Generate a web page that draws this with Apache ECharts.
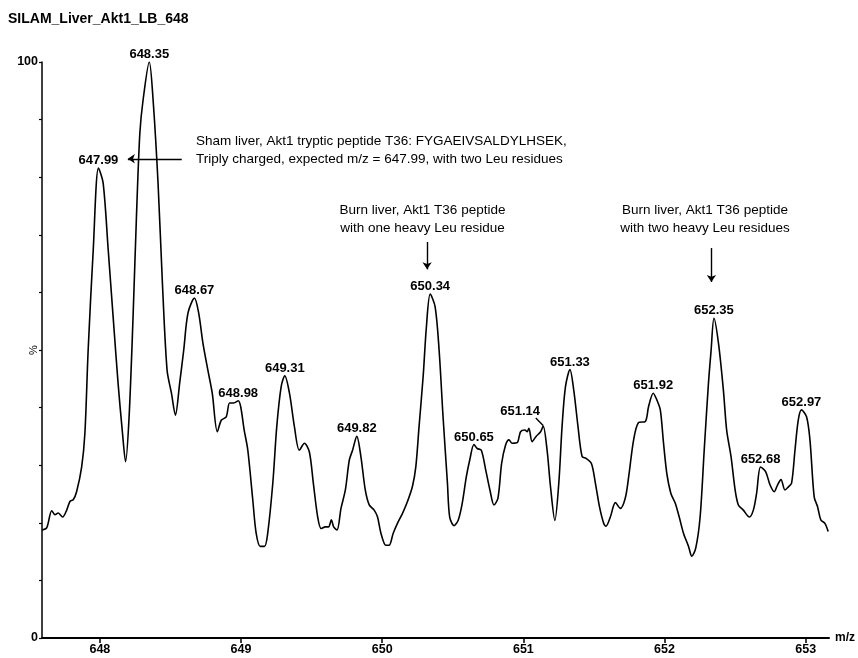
<!DOCTYPE html>
<html>
<head>
<meta charset="utf-8">
<script src="https://cdn.jsdelivr.net/npm/echarts@6/dist/echarts.min.js"></script>
<style>html,body{margin:0;padding:0;background:#fff;}#c{width:858px;height:658px;}</style>
</head>
<body>
<div id="c"></div>
<script>
const chartTitle = 'SILAM_Liver_Akt1_LB_648';
const xTicks = [648, 649, 650, 651, 652, 653];
const yTicksLabeled = [0, 100];
// [m/z, relative intensity %]
const spectrum = [
[647.590,18.75],[647.623,19.1],[647.659,22.1],[647.682,21.4],[647.705,21.7],[647.736,21.0],[647.765,22.2],[647.788,23.7],[647.811,24.0],[647.835,25.4],
[647.871,29.7],[647.894,35.6],[647.917,50.0],[647.953,67.4],[647.990,81.6],[648.023,79.0],[648.059,67.4],[648.094,55.7],[648.129,44.2],[648.160,35.6],
[648.182,30.6],[648.207,38.4],[648.235,55.7],[648.259,73.1],[648.283,87.6],[648.306,93.4],[648.350,100],[648.377,93.4],[648.412,79.0],[648.443,61.6],
[648.476,46.5],[648.507,42.5],[648.535,38.7],[648.565,44.2],[648.594,50.0],[648.624,56.4],[648.670,59.0],[648.700,56.4],[648.730,51.2],[648.765,46.5],
[648.796,42.5],[648.832,35.8],[648.860,37.8],[648.895,38.4],[648.919,40.8],[648.947,40.8],[648.980,41.2],[649.025,35.7],[649.048,32.6],[649.083,24.0],
[649.107,18.2],[649.136,15.9],[649.166,15.9],[649.189,18.2],[649.225,26.9],[649.253,36.7],[649.284,43.6],[649.310,45.5],[649.343,42.5],[649.378,36.7],
[649.413,32.6],[649.449,33.8],[649.484,32.3],[649.512,26.9],[649.543,21.0],[649.567,19.0],[649.597,19.3],[649.620,19.3],[649.640,20.5],[649.656,19.3],
[649.680,18.75],[649.708,22.5],[649.739,25.7],[649.767,30.9],[649.790,32.6],[649.820,35.0],[649.849,31.5],[649.880,25.7],[649.908,23.1],[649.943,22.2],
[649.967,21.0],[649.991,18.2],[650.026,16.1],[650.049,16.1],[650.078,18.2],[650.108,19.9],[650.143,21.6],[650.179,23.7],[650.214,26.3],[650.238,29.7],
[650.261,36.7],[650.290,45.4],[650.313,54.0],[650.340,59.7],[650.375,57.5],[650.403,50.0],[650.431,38.4],[650.462,26.9],[650.478,21.0],[650.509,19.5],
[650.539,20.5],[650.567,23.4],[650.596,28.0],[650.620,30.9],[650.650,33.6],[650.673,32.9],[650.702,32.6],[650.733,29.2],[650.763,25.7],[650.792,23.1],
[650.820,24.3],[650.846,30.3],[650.874,33.5],[650.898,34.4],[650.921,33.8],[650.956,33.9],[650.980,35.8],[651.011,36.1],[651.027,35.8],[651.039,36.4],
[651.062,34.1],[651.090,35.0],[651.122,35.8],[651.140,36.8],[651.168,32.6],[651.192,26.3],[651.223,20.4],[651.251,26.9],[651.274,36.7],[651.298,43.6],
[651.330,46.6],[651.357,43.0],[651.387,36.7],[651.416,31.5],[651.444,31.2],[651.482,30.3],[651.510,26.9],[651.539,22.8],[651.569,19.9],[651.585,19.4],
[651.616,21.0],[651.652,23.5],[651.687,22.5],[651.722,24.3],[651.746,28.0],[651.781,34.4],[651.816,37.4],[651.864,37.6],[651.887,40.2],[651.920,42.5],
[651.946,41.3],[651.970,39.6],[651.993,33.8],[652.016,28.6],[652.045,25.1],[652.076,23.4],[652.104,21.0],[652.134,18.2],[652.170,15.9],[652.193,14.2],
[652.221,15.6],[652.252,21.0],[652.281,32.6],[652.311,44.2],[652.330,50.0],[652.350,55.5],[652.382,51.2],[652.417,43.0],[652.440,36.1],[652.471,31.5],
[652.500,25.7],[652.523,23.1],[652.558,22.2],[652.601,21.0],[652.629,22.2],[652.652,25.1],[652.680,29.7],[652.716,28.9],[652.747,26.6],[652.777,25.4],
[652.801,26.6],[652.825,27.5],[652.853,25.7],[652.876,26.2],[652.900,26.9],[652.924,32.6],[652.947,37.8],[652.970,39.6],[653.006,38.4],[653.030,34.4],
[653.060,24.5],[653.084,22.8],[653.107,20.5],[653.136,19.9],[653.159,18.5]
];
const peakMz = [647.99, 648.35, 648.67, 648.98, 649.31, 649.82, 650.34, 650.65, 651.14, 651.33, 651.92, 652.35, 652.68, 652.97];

const peaks = peakMz.map(m => {
  const p = spectrum.find(d => Math.abs(d[0] - m) < 1e-6);
  const item = { value: [m, p[1]] };
  if (m === 651.14) item.label = { offset: [-23, -7] };
  return item;
});

const FONT = 'Liberation Sans, Arial, sans-serif';
const chart = echarts.init(document.getElementById('c'), null, { renderer: 'canvas' });
chart.setOption({
  animation: false,
  backgroundColor: '#fff',
  title: {
    text: chartTitle, left: 8, top: 12, padding: 0,
    textStyle: { fontFamily: FONT, fontSize: 14, fontWeight: 'bold', color: '#000' }
  },
  grid: { left: 42, right: 29, top: 62, bottom: 20, containLabel: false, outerBoundsMode: 'none' },
  xAxis: {
    type: 'value', min: 647.59, max: 653.165,
    name: 'm/z', nameLocation: 'end', nameGap: 6, nameMoveOverlap: false,
    nameTextStyle: { fontFamily: FONT, fontSize: 12, fontWeight: 'bold', color: '#000', verticalAlign: 'middle' },
    axisLine: { lineStyle: { color: '#000', width: 2 } },
    axisTick: { show: true, length: 5, lineStyle: { color: '#000', width: 1.5 }, customValues: xTicks },
    axisLabel: { customValues: xTicks, margin: 5, fontFamily: FONT, fontSize: 12.5, fontWeight: 'bold', color: '#000' },
    splitLine: { show: false }
  },
  yAxis: {
    type: 'value', min: 0, max: 100, interval: 10,
    name: '%', nameLocation: 'middle', nameRotate: 90, nameGap: 3, nameMoveOverlap: false,
    nameTextStyle: { fontFamily: FONT, fontSize: 11, color: '#000' },
    axisLine: { show: true, lineStyle: { color: '#000', width: 1.5 } },
    axisTick: { show: true, length: 3, lineStyle: { color: '#000', width: 1.2 } },
    axisLabel: { customValues: yTicksLabeled, margin: 4, fontFamily: FONT, fontSize: 12.5, fontWeight: 'bold', color: '#000' },
    splitLine: { show: false }
  },
  series: [
    {
      type: 'line', data: spectrum, showSymbol: false, symbol: 'none', smooth: 0.3,
      lineStyle: { color: '#000', width: 1.6 }, silent: true,
      markLine: {
        silent: true, symbol: ['none', 'arrow'], symbolSize: 7, animation: false,
        label: { show: false },
        lineStyle: { color: '#000', width: 1.4, type: 'solid' },
        emphasis: { disabled: true },
        data: [
          [{ coord: [648.58, 83.2] }, { coord: [648.198, 83.2] }],
          [{ coord: [650.318, 68.75] }, { coord: [650.318, 64.0] }],
          [{ coord: [652.332, 67.7] }, { coord: [652.332, 61.8] }],
          [{ coord: [651.088, 38.2], symbol: 'none' }, { coord: [651.14, 36.9], symbol: 'none' }]
        ]
      }
    },
    {
      type: 'scatter', data: peaks, symbolSize: 0, silent: true,
      itemStyle: { opacity: 1 },
      label: {
        show: true, position: 'top', distance: 1, opacity: 1,
        formatter: p => p.value[0].toFixed(2),
        fontFamily: FONT, fontSize: 13, fontWeight: 'bold', color: '#000'
      }
    }
  ],
  graphic: [
    { type: 'text', x: 196, y: 132, silent: true,
      style: { text: 'Sham liver, Akt1 tryptic peptide T36: FYGAEIVSALDYLHSEK,\nTriply charged, expected m/z = 647.99, with two Leu residues',
        font: '13.5px ' + FONT, fill: '#000', lineHeight: 18, align: 'left', verticalAlign: 'top' } },
    { type: 'text', x: 422.5, y: 201, silent: true,
      style: { text: 'Burn liver, Akt1 T36 peptide\nwith one heavy Leu residue',
        font: '13.5px ' + FONT, fill: '#000', lineHeight: 18, align: 'center', verticalAlign: 'top' } },
    { type: 'text', x: 705, y: 201, silent: true,
      style: { text: 'Burn liver, Akt1 T36 peptide\nwith two heavy Leu residues',
        font: '13.5px ' + FONT, fill: '#000', lineHeight: 18, align: 'center', verticalAlign: 'top' } }
  ]
});
</script>
</body>
</html>
